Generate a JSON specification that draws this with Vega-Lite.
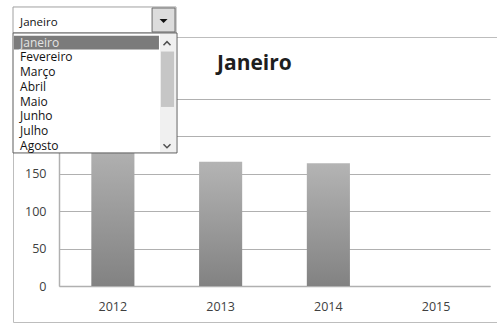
{
  "$schema": "https://vega.github.io/schema/vega-lite/v6.json",
  "width": 500,
  "height": 285,
  "autosize": "none",
  "padding": {"left": 13, "top": 37, "right": -16, "bottom": 2},
  "background": "white",
  "config": {"view": {"stroke": "#bdbdbd", "strokeWidth": 1}, "font": "Open Sans"},
  "title": {"text": "Janeiro", "fontSize": 21, "fontWeight": "bold", "font": "Open Sans", "color": "#1e1e1e", "anchor": "start", "frame": "group", "baseline": "alphabetic", "offset": -85, "dx": 204},
  "datasets": {
    "vendas": [
      {"ano": "2012", "valor": 195},
      {"ano": "2013", "valor": 166},
      {"ano": "2014", "valor": 164},
      {"ano": "2015", "valor": null}
    ],
    "meses": [
      {"mes": "Janeiro", "i": 0, "selecionado": true},
      {"mes": "Fevereiro", "i": 1, "selecionado": false},
      {"mes": "Março", "i": 2, "selecionado": false},
      {"mes": "Abril", "i": 3, "selecionado": false},
      {"mes": "Maio", "i": 4, "selecionado": false},
      {"mes": "Junho", "i": 5, "selecionado": false},
      {"mes": "Julho", "i": 6, "selecionado": false},
      {"mes": "Agosto", "i": 7, "selecionado": false}
    ]
  },
  "layer": [
    {
      "data": {"name": "vendas"},
      "mark": {"type": "bar", "fill": {"gradient": "linear", "x1": 0, "y1": 0, "x2": 0, "y2": 1, "stops": [{"offset": 0, "color": "#b4b4b4"}, {"offset": 1, "color": "#828282"}]}},
      "encoding": {
        "x": {"field": "ano", "type": "ordinal",
          "scale": {"domain": ["2012", "2013", "2014", "2015"], "range": [46, 477], "paddingInner": 0.6, "paddingOuter": 0.3},
          "axis": {"title": null, "labelAngle": 0, "ticks": false, "domain": true, "domainColor": "#b0b0b0", "domainWidth": 1.5, "grid": false, "offset": -36, "labelPadding": 14, "labelFontSize": 12.5, "labelColor": "#404040", "labelFont": "Open Sans"}},
        "y": {"field": "valor", "type": "quantitative",
          "scale": {"domain": [0, 250], "range": [249, 61.7], "nice": false},
          "axis": {"title": null, "values": [0, 50, 100, 150, 200, 250], "labelExpr": "datum.value <= 150 ? datum.label : ''", "ticks": false, "domain": true, "domainColor": "#b0b0b0", "domainWidth": 1.5, "grid": true, "gridColor": "#b0b0b0", "gridWidth": 1.2, "offset": -46, "labelPadding": 13, "labelFontSize": 12.5, "labelColor": "#404040", "labelFont": "Open Sans"}}
      }
    },
    {
      "layer": [
        {
          "data": {"values": [{}]},
          "mark": {"type": "rect", "fill": "white", "stroke": "#a0a0a0", "strokeWidth": 1},
          "encoding": {
            "x": {"datum": 0, "type": "quantitative", "scale": {"domain": [0, 100], "range": [0, 164], "nice": false, "zero": false}, "axis": null},
            "x2": {"datum": 99.4},
            "y": {"datum": -2.43, "type": "quantitative", "scale": {"domain": [0, 7], "range": [5.7, 108.6], "nice": false, "zero": false}, "axis": null},
            "y2": {"datum": -0.66}
          }
        },
        {
          "data": {"values": [{}]},
          "mark": {"type": "rect", "fill": "white", "stroke": "#5c5c5c", "strokeWidth": 1},
          "encoding": {
            "x": {"datum": 0, "type": "quantitative", "scale": {"domain": [0, 100], "range": [0, 164], "nice": false, "zero": false}, "axis": null},
            "x2": {"datum": 100},
            "y": {"datum": -0.66, "type": "quantitative", "scale": {"domain": [0, 7], "range": [5.7, 108.6], "nice": false, "zero": false}, "axis": null},
            "y2": {"datum": 7.5}
          }
        },
        {
          "data": {"values": [{}]},
          "mark": {"type": "rect", "fill": "#f0f0f0"},
          "encoding": {
            "x": {"datum": 89.6, "type": "quantitative", "scale": {"domain": [0, 100], "range": [0, 164], "nice": false, "zero": false}, "axis": null},
            "x2": {"datum": 99.4},
            "y": {"datum": -0.59, "type": "quantitative", "scale": {"domain": [0, 7], "range": [5.7, 108.6], "nice": false, "zero": false}, "axis": null},
            "y2": {"datum": 7.43}
          }
        },
        {
          "data": {"values": [{}]},
          "mark": {"type": "rect", "fill": "#c6c6c6"},
          "encoding": {
            "x": {"datum": 90.2, "type": "quantitative", "scale": {"domain": [0, 100], "range": [0, 164], "nice": false, "zero": false}, "axis": null},
            "x2": {"datum": 98.2},
            "y": {"datum": 0.6, "type": "quantitative", "scale": {"domain": [0, 7], "range": [5.7, 108.6], "nice": false, "zero": false}, "axis": null},
            "y2": {"datum": 4.37}
          }
        },
        {
          "data": {"values": [{}]},
          "mark": {"type": "rect", "fill": "#7b7b7b"},
          "encoding": {
            "x": {"datum": 0.6, "type": "quantitative", "scale": {"domain": [0, 100], "range": [0, 164], "nice": false, "zero": false}, "axis": null},
            "x2": {"datum": 89},
            "y": {"datum": -0.48, "type": "quantitative", "scale": {"domain": [0, 7], "range": [5.7, 108.6], "nice": false, "zero": false}, "axis": null},
            "y2": {"datum": 0.46}
          }
        },
        {
          "data": {"values": [{}]},
          "mark": {"type": "rect", "fill": "#dcdcdc", "stroke": "#6a6a6a", "strokeWidth": 1},
          "encoding": {
            "x": {"datum": 84.8, "type": "quantitative", "scale": {"domain": [0, 100], "range": [0, 164], "nice": false, "zero": false}, "axis": null},
            "x2": {"datum": 98.8},
            "y": {"datum": -2.36, "type": "quantitative", "scale": {"domain": [0, 7], "range": [5.7, 108.6], "nice": false, "zero": false}, "axis": null},
            "y2": {"datum": -0.73}
          }
        },
        {
          "data": {"values": [{}]},
          "mark": {"type": "point", "shape": "M-1,-0.5L1,-0.5L0,0.5Z", "filled": true, "color": "#111111", "size": 64, "opacity": 1},
          "encoding": {
            "x": {"datum": 91.8, "type": "quantitative", "scale": {"domain": [0, 100], "range": [0, 164], "nice": false, "zero": false}, "axis": null},
            "y": {"datum": -1.48, "type": "quantitative", "scale": {"domain": [0, 7], "range": [5.7, 108.6], "nice": false, "zero": false}, "axis": null}
          }
        },
        {
          "data": {"values": [{}]},
          "mark": {"type": "point", "shape": "M-1,0.5L0,-0.5L1,0.5", "filled": false, "stroke": "#505050", "strokeWidth": 1.5, "size": 49, "opacity": 1},
          "encoding": {
            "x": {"datum": 93.9, "type": "quantitative", "scale": {"domain": [0, 100], "range": [0, 164], "nice": false, "zero": false}, "axis": null},
            "y": {"datum": 0.05, "type": "quantitative", "scale": {"domain": [0, 7], "range": [5.7, 108.6], "nice": false, "zero": false}, "axis": null}
          }
        },
        {
          "data": {"values": [{}]},
          "mark": {"type": "point", "shape": "M-1,-0.5L0,0.5L1,-0.5", "filled": false, "stroke": "#505050", "strokeWidth": 1.5, "size": 49, "opacity": 1},
          "encoding": {
            "x": {"datum": 93.9, "type": "quantitative", "scale": {"domain": [0, 100], "range": [0, 164], "nice": false, "zero": false}, "axis": null},
            "y": {"datum": 7.03, "type": "quantitative", "scale": {"domain": [0, 7], "range": [5.7, 108.6], "nice": false, "zero": false}, "axis": null}
          }
        },
        {
          "data": {"name": "meses"},
          "transform": [{"filter": "datum.selecionado"}],
          "mark": {"type": "text", "align": "left", "baseline": "middle", "fontSize": 11.5, "font": "Open Sans", "color": "#111111"},
          "encoding": {
            "text": {"field": "mes"},
            "x": {"datum": 4.3, "type": "quantitative", "scale": {"domain": [0, 100], "range": [0, 164], "nice": false, "zero": false}, "axis": null},
            "y": {"datum": -1.37, "type": "quantitative", "scale": {"domain": [0, 7], "range": [5.7, 108.6], "nice": false, "zero": false}, "axis": null}
          }
        },
        {
          "data": {"name": "meses"},
          "mark": {"type": "text", "align": "left", "baseline": "middle", "fontSize": 12, "font": "Open Sans"},
          "encoding": {
            "text": {"field": "mes"},
            "x": {"datum": 4.3, "type": "quantitative", "scale": {"domain": [0, 100], "range": [0, 164], "nice": false, "zero": false}, "axis": null},
            "y": {"field": "i", "type": "quantitative", "scale": {"domain": [0, 7], "range": [5.7, 108.6], "nice": false, "zero": false}, "axis": null},
            "color": {"condition": {"test": "datum.selecionado", "value": "#e4e4e4"}, "value": "#111111"}
          }
        }
      ]
    }
  ],
  "resolve": {"scale": {"x": "independent", "y": "independent"}}
}
